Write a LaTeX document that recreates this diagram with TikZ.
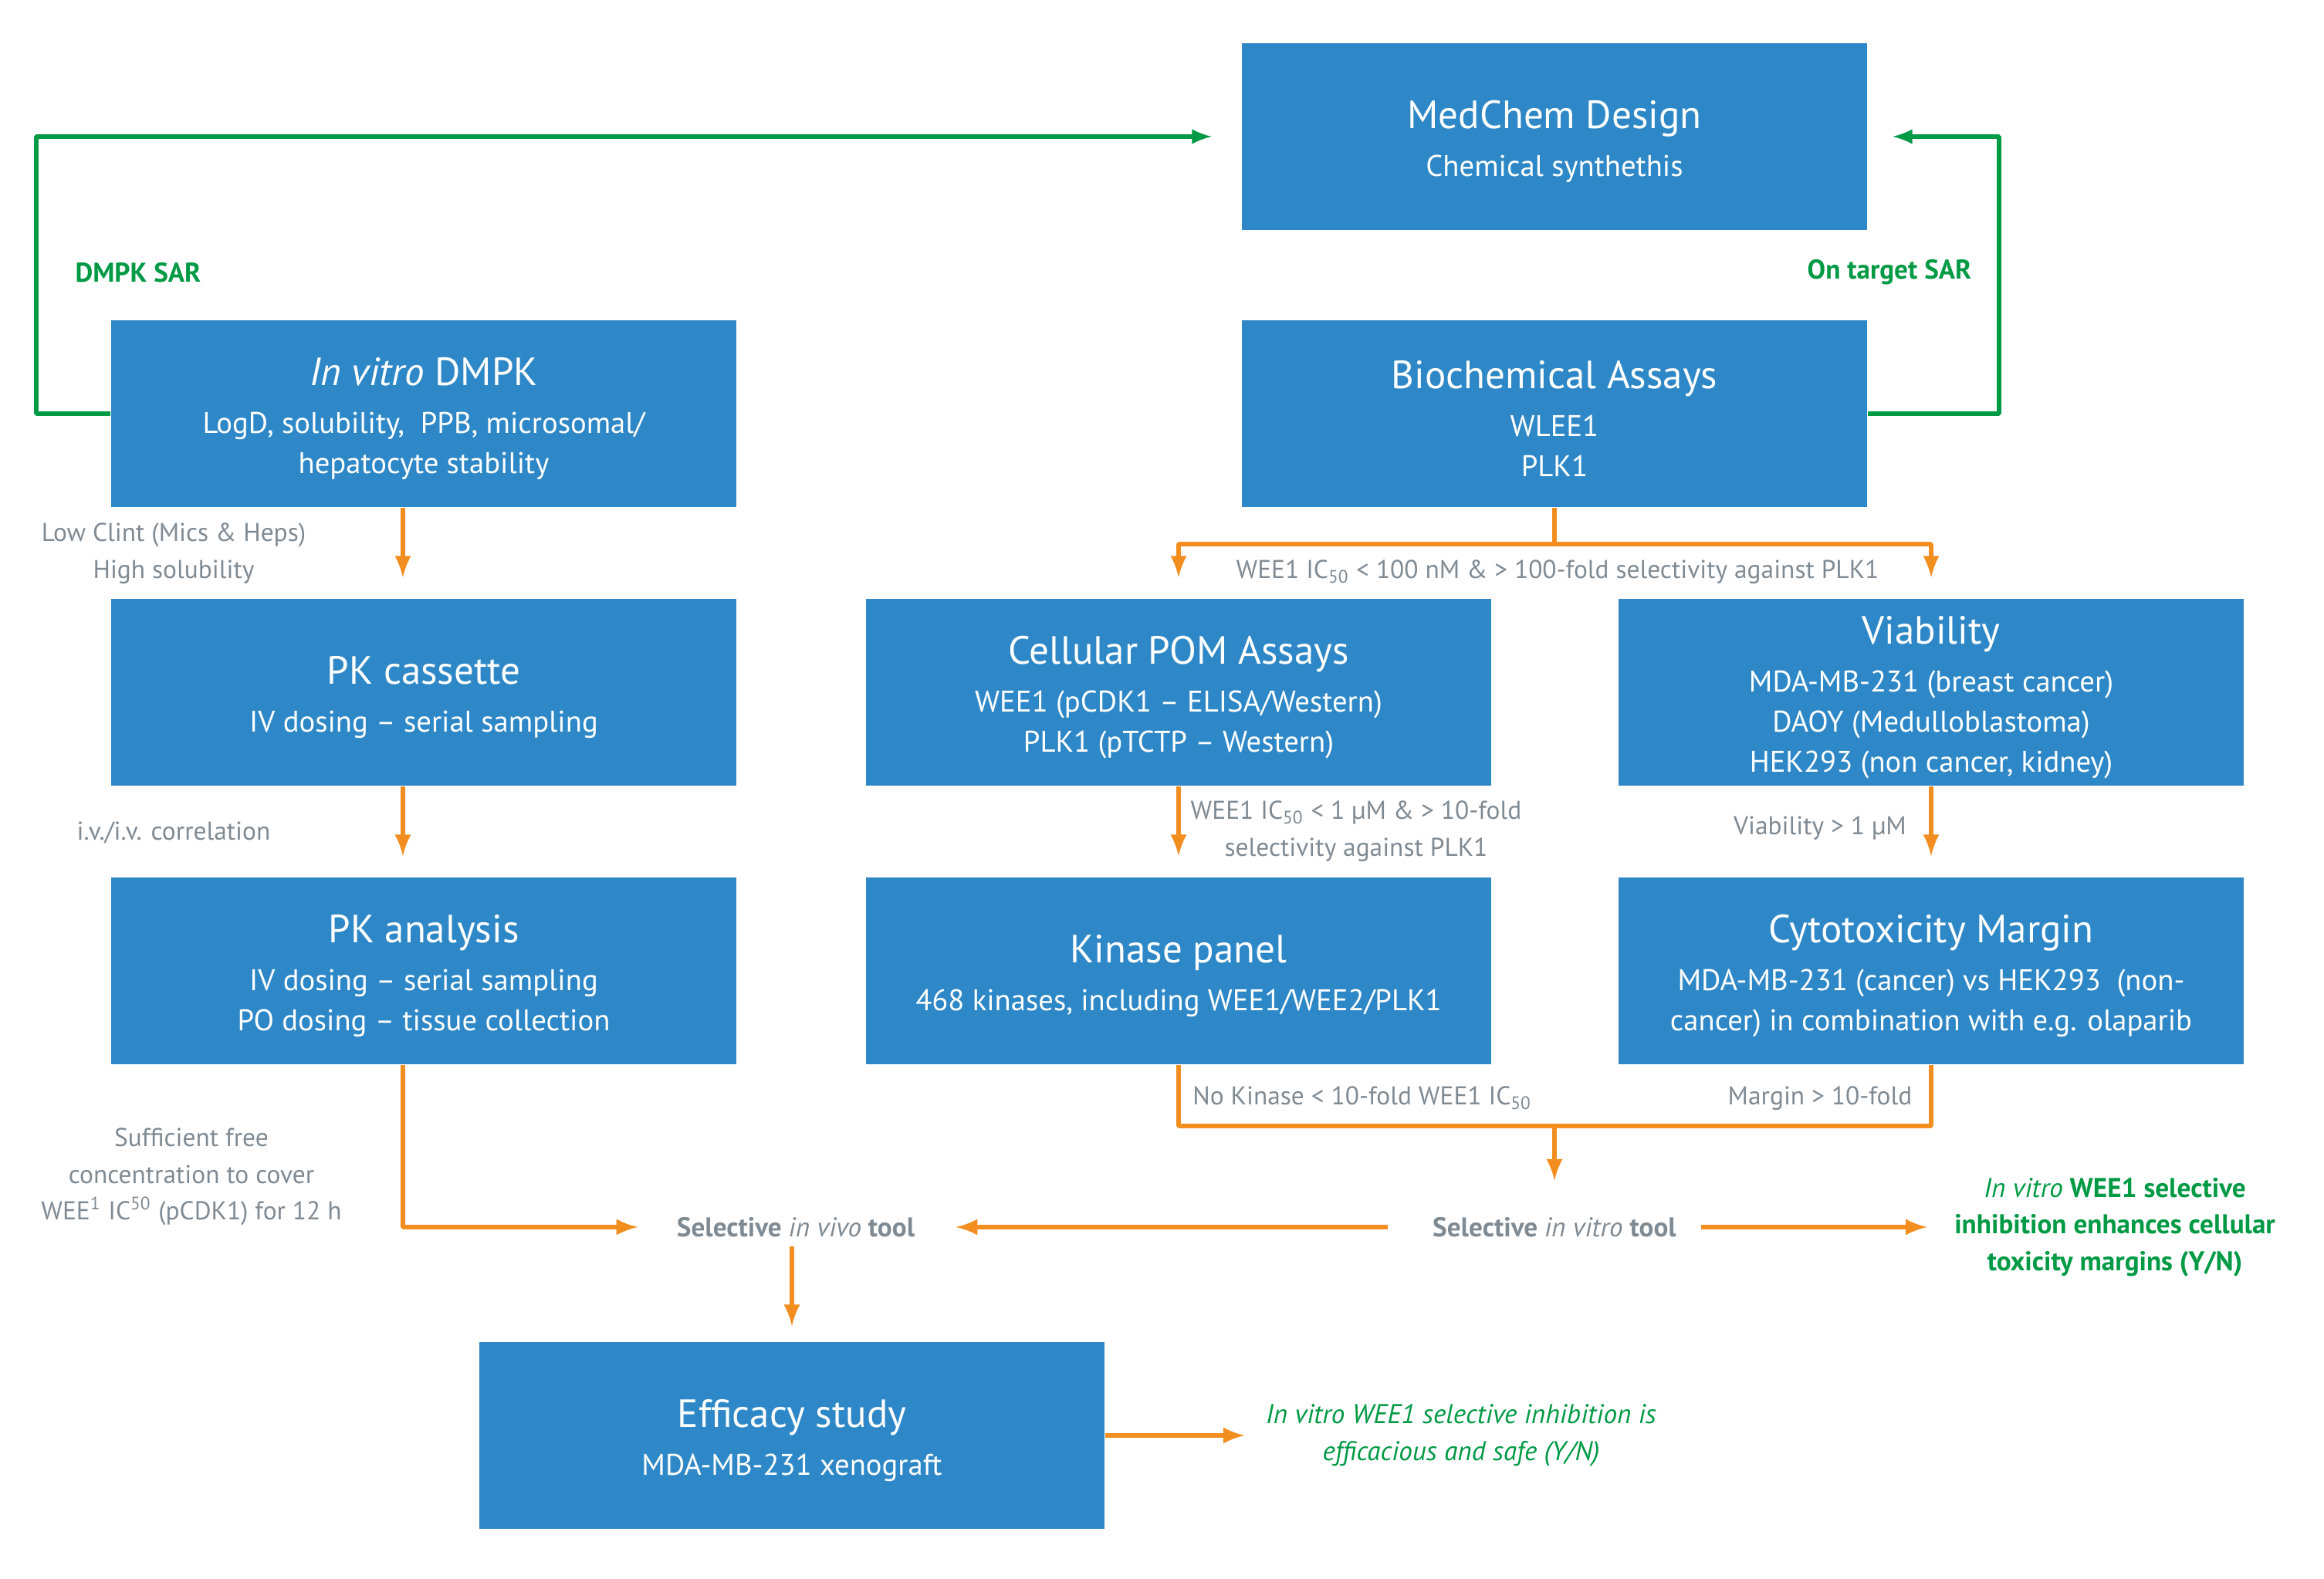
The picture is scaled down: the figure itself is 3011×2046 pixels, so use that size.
\documentclass[tikz,border=0pt]{standalone}
\usepackage{fontspec}
\setmainfont{PT Sans}
\definecolor{boxblue}{RGB}{46,136,199}
\definecolor{floworange}{RGB}{242,141,32}
\definecolor{sargreen}{RGB}{0,153,68}
\definecolor{notegray}{RGB}{128,138,146}
\newcommand{\boxtitle}[1]{{\fontsize{14.5}{17}\selectfont\rule{0pt}{14pt}#1}}
\begin{document}
\begin{tikzpicture}[>=latex,line join=bevel,x=0.01cm,y=-0.01cm,
  stepbox/.style={fill=boxblue,draw=none,text=white,minimum width=8.1cm,minimum height=2.42cm,align=center,inner sep=0pt,font=\fontsize{11}{14.8}\selectfont},
  note/.style={text=notegray,align=center,font=\fontsize{9.5}{13.5}\selectfont},
  tool/.style={text=notegray,font=\fontsize{10}{12}\selectfont\bfseries},
  verdict/.style={text=sargreen,align=center,font=\fontsize{10}{13.5}\selectfont},
  sarloop/.style={draw=sargreen,line width=1.5pt,->},
  flowline/.style={draw=floworange,line width=1.7pt},
  flow/.style={flowline,->,shorten >=0.27cm}]
\useasboundingbox (0,0) rectangle (3011,2046);
%%
\node (node_medchem) at (2014,177) [stepbox] {\boxtitle{MedChem Design}\\[3pt] Chemical synthethis};
  \node (node_dmpk) at (549,536) [stepbox] {\boxtitle{\textit{In vitro} DMPK}\\[3pt] LogD, solubility,\ \ PPB, microsomal/\\ hepatocyte stability};
  \node (node_biochem) at (2014,536) [stepbox] {\boxtitle{Biochemical Assays}\\[3pt] WLEE1\\ PLK1};
  \node (node_pkc) at (549,897) [stepbox] {\boxtitle{PK cassette}\\[3pt] IV dosing -- serial sampling};
  \node (node_pom) at (1527,897) [stepbox] {\boxtitle{Cellular POM Assays}\\[3pt] WEE1 (pCDK1 -- ELISA/Western)\\ PLK1 (pTCTP -- Western)};
  \node (node_viab) at (2502,897) [stepbox] {\boxtitle{Viability}\\[3pt] MDA-MB-231 (breast cancer)\\ DAOY (Medulloblastoma)\\ HEK293 (non cancer, kidney)};
  \node (node_pka) at (549,1258) [stepbox] {\boxtitle{PK analysis}\\[3pt] IV dosing -- serial sampling\\ PO dosing -- tissue collection};
  \node (node_kinase) at (1527,1258) [stepbox] {\boxtitle{Kinase panel}\\[3pt] 468 kinases, including WEE1/WEE2/PLK1};
  \node (node_cytotox) at (2502,1258) [stepbox] {\boxtitle{Cytotoxicity Margin}\\[3pt] MDA-MB-231 (cancer) vs HEK293\ \ (non-\\ cancer) in combination with e.g. olaparib};
  \node (node_efficacy) at (1026,1860) [stepbox] {\boxtitle{Efficacy study}\\[3pt] MDA-MB-231 xenograft};
%
  \node (node_dmpksar) at (179,353) [verdict,font=\fontsize{10}{12}\selectfont\bfseries] {DMPK SAR};
  \node (node_targetsar) at (2448,353) [verdict,font=\fontsize{10}{12}\selectfont\bfseries] {On target SAR};
  \node (node_clint) at (225,717) [note] {Low Clint (Mics \& Heps)\\ High solubility};
  \node (node_ivcorr) at (225,1079) [note] {i.v./i.v. correlation};
  \node (node_cover) at (248,1525) [note] {Sufficient free\\ concentration to cover\\ WEE\textsuperscript{1} IC\textsuperscript{50} (pCDK1) for 12 h};
  \node (node_crit1) at (2018,741) [note] {WEE1 IC\textsubscript{50} < 100 nM \& > 100-fold selectivity against PLK1};
  \node (node_crit2) at (1757,1077) [note] {WEE1 IC\textsubscript{50} < 1 µM \& > 10-fold\\ selectivity against PLK1};
  \node (node_crit3) at (2358,1073) [note] {Viability > 1 µM};
  \node (node_crit4) at (1765,1423) [note] {No Kinase < 10-fold WEE1 IC\textsubscript{50}};
  \node (node_crit5) at (2358,1423) [note] {Margin > 10-fold};
  \node (node_invivo) at (1031,1590) [tool] {Selective {\mdseries\itshape in vivo} tool};
  \node (node_invitro) at (2014,1590) [tool] {Selective {\mdseries\itshape in vitro} tool};
  \node (node_outvitro) at (2740,1590) [verdict,font=\fontsize{10}{13.5}\selectfont\bfseries] {{\mdseries\itshape In vitro} WEE1 selective\\ inhibition enhances cellular\\ toxicity margins (Y/N)};
  \node (node_outvivo) at (1893,1860) [verdict,font=\fontsize{10}{13.5}\selectfont\itshape] {In vitro WEE1 selective inhibition is\\ efficacious and safe (Y/N)};
  \coordinate (split) at (2014,705);
  \coordinate (merge) at (2014,1459);
%
  \draw [sarloop,shorten >=0.38cm] (node_dmpk.west) -- ++(-96,0) |- (node_medchem.west);
  \draw [sarloop,shorten >=0.32cm] (node_biochem.east) -- ++(170,0) |- (node_medchem.east);
  \draw [flow] ([xshift=-0.27cm]node_dmpk.south) -- ([xshift=-0.27cm]node_pkc.north);
  \draw [flow] ([xshift=-0.27cm]node_pkc.south) -- ([xshift=-0.27cm]node_pka.north);
  \draw [flow,shorten >=0.38cm] ([xshift=-0.27cm]node_pka.south) |- (node_invivo.west);
  \draw [flow,shorten >=0.2cm] (node_efficacy.north |- node_invivo.south) -- (node_efficacy.north);
  \draw [flow,shorten >=0.15cm] (node_efficacy.east) -- (node_outvivo.west);
  \draw [flowline] (node_biochem.south) -- (split);
  \draw [flow] (split) -| (node_pom.north);
  \draw [flow] (split) -| (node_viab.north);
  \draw [flow] (node_pom.south) -- (node_kinase.north);
  \draw [flow] (node_viab.south) -- (node_cytotox.north);
  \draw [flowline] (node_kinase.south) |- (merge) -| (node_cytotox.south);
  \draw [flow,shorten >=0.35cm] (merge) -- (node_invitro.north);
  \draw [flow,shorten <=0.46cm,shorten >=0.41cm] (node_invitro.west) -- (node_invivo.east);
  \draw [flow,shorten <=0.2cm,shorten >=0.23cm] (node_invitro.east) -- (node_outvitro.west);
%
\end{tikzpicture}
\end{document}
